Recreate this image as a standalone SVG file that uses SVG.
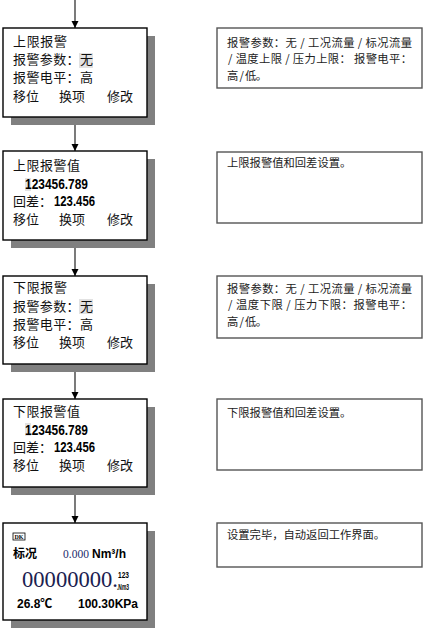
<svg xmlns="http://www.w3.org/2000/svg" width="426" height="630" viewBox="0 0 426 630">
<defs>
<style>
.shadow{fill:#808080}
.box{fill:#fff;stroke:#000;stroke-width:1.4}
.note{fill:#fff;stroke:#555;stroke-width:1.4}
.t{font-family:"Noto Sans CJK SC","Liberation Sans",sans-serif;font-size:13px;fill:#111}
.n{font-family:"Noto Sans CJK SC","Liberation Serif",serif;font-size:11.3px;fill:#222}
.num{font-family:"Liberation Sans",Arial,sans-serif;font-weight:bold;font-size:14px;fill:#000}
.b{font-family:"Liberation Sans","Noto Sans CJK SC",sans-serif;font-weight:bold;fill:#000}
.hl{fill:#e2e2e2}
.conn{stroke:#333;stroke-width:1.3;fill:none}
</style>
<marker id="ah" markerWidth="8" markerHeight="8" refX="7" refY="4" orient="auto" markerUnits="userSpaceOnUse">
<path d="M0,0.5 L7,4 L0,7.5 Z" fill="#000"/>
</marker>
</defs>
<rect width="426" height="630" fill="#fff"/>
<g id="connectors">
<line class="conn" x1="75" y1="0" x2="75" y2="28" marker-end="url(#ah)"/>
<line class="conn" x1="75" y1="117" x2="75" y2="151" marker-end="url(#ah)"/>
<line class="conn" x1="75" y1="240" x2="75" y2="276" marker-end="url(#ah)"/>
<line class="conn" x1="75" y1="364" x2="75" y2="399" marker-end="url(#ah)"/>
<line class="conn" x1="75" y1="487" x2="75" y2="523" marker-end="url(#ah)"/>
</g>
<g id="node1">
<rect class="shadow" x="11" y="36" width="144" height="89"/>
<rect class="box" x="3" y="28" width="144" height="89"/>
<rect class="hl" x="79" y="53" width="14" height="15"/>
<text class="t" x="13" y="46" textLength="54" lengthAdjust="spacing">上限报警</text>
<text class="t" x="13" y="64" textLength="80" lengthAdjust="spacing">报警参数：无</text>
<text class="t" x="13" y="82" textLength="80" lengthAdjust="spacing">报警电平：高</text>
<text class="t" x="13" y="101">移位</text>
<text class="t" x="59" y="101">换项</text>
<text class="t" x="107" y="101">修改</text>
</g>
<g id="node2">
<rect class="shadow" x="11" y="159" width="144" height="89"/>
<rect class="box" x="3" y="151" width="144" height="89"/>
<rect class="hl" x="25" y="178" width="6" height="13"/>
<text class="t" x="13" y="170" textLength="67" lengthAdjust="spacing">上限报警值</text>
<text class="num" x="25" y="189" textLength="63" lengthAdjust="spacingAndGlyphs">123456.789</text>
<text class="t" x="13" y="206">回差：</text>
<text class="num" x="54" y="206" textLength="41" lengthAdjust="spacingAndGlyphs">123.456</text>
<text class="t" x="13" y="224">移位</text>
<text class="t" x="59" y="224">换项</text>
<text class="t" x="107" y="224">修改</text>
</g>
<g id="node3">
<rect class="shadow" x="11" y="284" width="144" height="88"/>
<rect class="box" x="3" y="276" width="144" height="88"/>
<rect class="hl" x="79" y="299" width="14" height="15"/>
<text class="t" x="13" y="292" textLength="54" lengthAdjust="spacing">下限报警</text>
<text class="t" x="13" y="311" textLength="80" lengthAdjust="spacing">报警参数：无</text>
<text class="t" x="13" y="329" textLength="80" lengthAdjust="spacing">报警电平：高</text>
<text class="t" x="13" y="347">移位</text>
<text class="t" x="59" y="347">换项</text>
<text class="t" x="107" y="347">修改</text>
</g>
<g id="node4">
<rect class="shadow" x="11" y="407" width="144" height="88"/>
<rect class="box" x="3" y="399" width="144" height="88"/>
<rect class="hl" x="25" y="423" width="6" height="13"/>
<text class="t" x="13" y="416" textLength="67" lengthAdjust="spacing">下限报警值</text>
<text class="num" x="25" y="435" textLength="63" lengthAdjust="spacingAndGlyphs">123456.789</text>
<text class="t" x="13" y="452">回差：</text>
<text class="num" x="54" y="452" textLength="41" lengthAdjust="spacingAndGlyphs">123.456</text>
<text class="t" x="13" y="470">移位</text>
<text class="t" x="59" y="470">换项</text>
<text class="t" x="107" y="470">修改</text>
</g>
<g id="node5">
<rect class="shadow" x="11" y="531" width="144" height="97"/>
<rect class="box" x="3" y="523" width="144" height="97"/>
<rect x="13" y="533" width="12" height="7" fill="#fff" stroke="#000" stroke-width="0.8"/>
<text x="19" y="539" text-anchor="middle" font-family="Liberation Serif,serif" font-weight="bold" font-size="6px" fill="#000">DK</text>
<text class="b" x="13" y="558" font-size="12px" font-family="Noto Sans CJK SC,sans-serif">标况</text>
<text x="63" y="558" font-family="Liberation Serif,serif" font-size="11.5px" fill="#1c2a6b">0.000</text>
<text class="b" x="92" y="558" font-size="12px">Nm³/h</text>
<text x="22" y="587" font-family="Liberation Serif,serif" font-size="22.5px" fill="#1a2150" textLength="96" lengthAdjust="spacingAndGlyphs">00000000.</text>
<text class="b" x="118" y="578" font-size="9px" textLength="11" lengthAdjust="spacingAndGlyphs">123</text>
<text class="b" x="117" y="590" font-size="9px" textLength="12" lengthAdjust="spacingAndGlyphs">.Nm3</text>
<text class="b" x="17" y="608" font-size="12px">26.8℃</text>
<text class="b" x="78" y="608" font-size="12px">100.30KPa</text>
</g>
<g id="note1">
<rect class="note" x="217" y="28" width="205" height="60"/>
<text class="n" x="227" y="47" textLength="185" lengthAdjust="spacing">报警参数：无 / 工况流量 / 标况流量</text>
<text class="n" x="228" y="63" textLength="184" lengthAdjust="spacing">/ 温度上限 / 压力上限： 报警电平：</text>
<text class="n" x="227" y="80" textLength="40" lengthAdjust="spacing">高 / 低。</text>
</g>
<g id="note2">
<rect class="note" x="217" y="152" width="205" height="71"/>
<text class="n" x="227" y="167">上限报警值和回差设置。</text>
</g>
<g id="note3">
<rect class="note" x="217" y="276" width="205" height="62"/>
<text class="n" x="227" y="293" textLength="185" lengthAdjust="spacing">报警参数：无 / 工况流量 / 标况流量</text>
<text class="n" x="228" y="309" textLength="184" lengthAdjust="spacing">/ 温度下限 / 压力下限：报警电平：</text>
<text class="n" x="227" y="326" textLength="40" lengthAdjust="spacing">高 / 低。</text>
</g>
<g id="note4">
<rect class="note" x="217" y="399" width="205" height="71"/>
<text class="n" x="227" y="417">下限报警值和回差设置。</text>
</g>
<g id="note5">
<rect class="note" x="217" y="523" width="205" height="44"/>
<text class="n" x="227" y="539">设置完毕，自动返回工作界面。</text>
</g>
</svg>
